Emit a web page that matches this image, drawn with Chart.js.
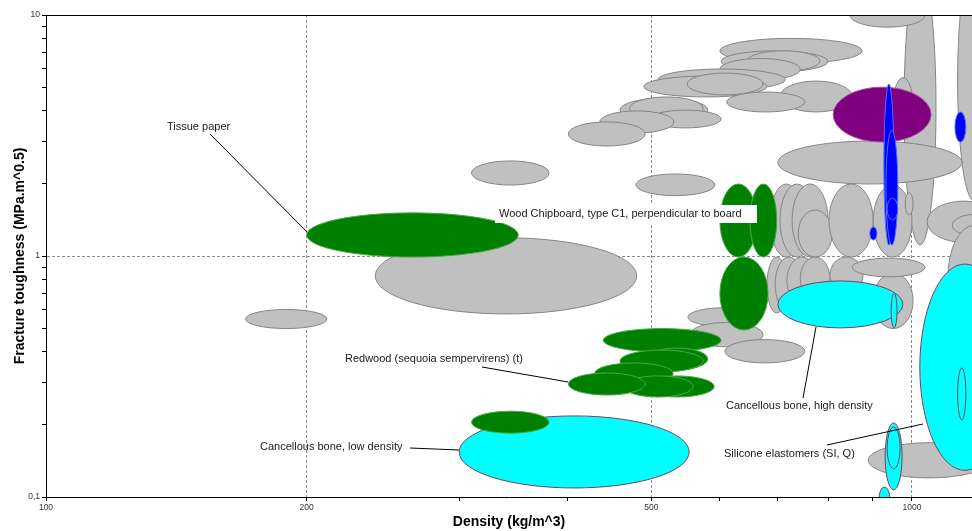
<!DOCTYPE html>
<html>
<head>
<meta charset="utf-8">
<script src="https://cdn.jsdelivr.net/npm/chart.js@4/dist/chart.umd.min.js"></script>
<style>
  html, body { margin: 0; padding: 0; background: #ffffff; }
  canvas { display: block; }
</style>
</head>
<body>
<canvas id="chart" width="972" height="531"></canvas>
<script>
// Each material is a property range: [density low, density high, toughness low, toughness high]
// density in kg/m^3, fracture toughness in MPa.m^0.5

const greyMaterials = [
  [979, 1066, 1.11, 15.4],
  [1129, 1231, 1.7, 16.9],
  [848, 1035, 8.9, 11.2],
  [951, 1003, 3.2, 5.5],
  [600, 876, 6.3, 8.0],
  [602, 800, 5.8, 7.1],
  [645, 783, 5.85, 7.1],
  [600, 743, 5.37, 6.6],
  [509, 714, 4.88, 5.97],
  [490, 680, 4.57, 5.58],
  [550, 673, 4.66, 5.74],
  [704, 853, 3.96, 5.32],
  [611, 752, 3.96, 4.79],
  [460, 581, 3.60, 4.52],
  [472, 574, 3.67, 4.57],
  [498, 602, 3.40, 4.03],
  [436, 531, 3.24, 4.00],
  [401, 492, 2.86, 3.60],
  [700, 1142, 1.99, 3.0],
  [310, 381, 1.97, 2.48],
  [480, 592, 1.78, 2.19],
  [1041, 1264, 1.14, 1.69],
  [1113, 1264, 1.21, 1.49],
  [1100, 1264, 0.49, 1.34],
  [686, 747, 0.99, 1.99],
  [704, 771, 0.99, 1.99],
  [727, 800, 0.99, 1.99],
  [739, 809, 0.99, 1.55],
  [802, 902, 0.99, 1.99],
  [902, 1000, 0.99, 1.97],
  [982, 1003, 1.48, 1.83],
  [680, 717, 0.58, 0.99],
  [695, 748, 0.59, 0.99],
  [717, 777, 0.63, 0.99],
  [743, 804, 0.66, 0.99],
  [804, 878, 0.70, 0.99],
  [902, 1003, 0.50, 0.85],
  [853, 1035, 0.82, 0.98],
  [551, 668, 0.51, 0.61],
  [554, 673, 0.42, 0.53],
  [608, 752, 0.36, 0.45],
  [240, 481, 0.575, 1.19],
  [170, 211, 0.50, 0.60],
  [890, 1231, 0.12, 0.168]
];

const cyanMaterials = [
  [300, 553, 0.109, 0.217],   // Cancellous bone, low density
  [700, 976, 0.503, 0.788],   // Cancellous bone, high density
  [946, 961, 0.503, 0.70],
  [1021, 1298, 0.129, 0.926],
  [1129, 1154, 0.209, 0.343],
  [931, 974, 0.107, 0.203],   // Silicone elastomers (SI, Q)
  [936, 969, 0.131, 0.195],
  [916, 943, 0.088, 0.110]
];

const greenMaterials = [
  [200, 351, 0.99, 1.51],     // Tissue paper
  [600, 662, 0.99, 1.99],     // Wood Chipboard, type C1, perpendicular to board
  [650, 698, 0.99, 1.99],
  [600, 682, 0.493, 0.99],
  [440, 602, 0.40, 0.50],
  [494, 581, 0.337, 0.415],
  [460, 574, 0.33, 0.407],
  [430, 530, 0.294, 0.36],
  [485, 591, 0.26, 0.318],
  [464, 559, 0.26, 0.318],
  [401, 492, 0.265, 0.327],   // Redwood (sequoia sempervirens) (t)
  [310, 381, 0.184, 0.227],
  [181, 222, 0.073, 0.099]
];

const purpleMaterials = [
  [811, 1052, 2.97, 5.02]
];

const blueMaterials = [
  [928, 953, 1.11, 5.17],
  [933, 963, 1.11, 3.33],
  [936, 963, 1.41, 1.74],
  [894, 911, 1.165, 1.32],
  [1121, 1154, 2.97, 3.96]
];

// Axis ticks
const densityTicks = [100, 200, 300, 400, 500, 600, 700, 800, 900, 1000];
const densityLabelValues = [100, 200, 500, 1000];
const densityTickLabels = ['100', '200', '500', '1000'];
const densityGridValues = [200, 500, 1000];

const toughTicks = [0.1, 0.2, 0.3, 0.4, 0.5, 0.6, 0.7, 0.8, 0.9, 1, 2, 3, 4, 5, 6, 7, 8, 9, 10];
const toughLabelValues = [0.1, 1, 10];
const toughTickLabels = ['0,1', '1', '10'];
const toughGridValues = [1];

// Callout labels with leader lines (canvas pixels)
const callouts = [
  { text: 'Tissue paper', tx: 167, ty: 127, line: [210, 134, 307, 232] },
  { text: 'Wood Chipboard, type C1, perpendicular to board', tx: 499, ty: 214, box: [495, 205, 262, 18] },
  { text: 'Redwood (sequoia sempervirens) (t)', tx: 345, ty: 359, line: [482, 367, 568, 382] },
  { text: 'Cancellous bone, low density', tx: 260, ty: 447, line: [410, 448, 459, 450] },
  { text: 'Cancellous bone, high density', tx: 726, ty: 406, line: [803, 398, 816, 327] },
  { text: 'Silicone elastomers (SI, Q)', tx: 724, ty: 454, line: [827, 445, 923, 424] }
];

const FONT = "'Liberation Sans', Arial, Helvetica, sans-serif";

const groups = [
  { name: 'Other materials', rows: greyMaterials, fill: '#c0c0c0', stroke: '#858585' },
  { name: 'Cyan group', rows: cyanMaterials, fill: '#00ffff', stroke: '#7a4060' },
  { name: 'Green group', rows: greenMaterials, fill: '#008000', stroke: '#45a845' },
  { name: 'Purple group', rows: purpleMaterials, fill: '#800080', stroke: '#a050a0' },
  { name: 'Blue group', rows: blueMaterials, fill: '#0000ff', stroke: '#5070ff' }
];

// Draws each range as an ellipse spanning its low/high values on both log axes
const rangeEllipses = {
  id: 'rangeEllipses',
  beforeDatasetsDraw(chart) {
    const { ctx, chartArea: a, scales: { x, y } } = chart;
    ctx.save();
    ctx.beginPath();
    ctx.rect(a.left, a.top, a.right - a.left, a.bottom - a.top);
    ctx.clip();
    chart.data.datasets.forEach(ds => {
      ds.data.forEach(p => {
        const [d0, d1, k0, k1] = p.range;
        const x0 = x.getPixelForValue(d0), x1 = x.getPixelForValue(d1);
        const y0 = y.getPixelForValue(k0), y1 = y.getPixelForValue(k1);
        ctx.beginPath();
        ctx.ellipse((x0 + x1) / 2, (y0 + y1) / 2, Math.abs(x1 - x0) / 2, Math.abs(y0 - y1) / 2, 0, 0, Math.PI * 2);
        ctx.fillStyle = ds.backgroundColor;
        ctx.fill();
        ctx.lineWidth = 1;
        ctx.strokeStyle = ds.borderColor;
        ctx.stroke();
      });
    });
    ctx.restore();
  }
};

// Leader lines, callout texts and the top frame line
const calloutLabels = {
  id: 'calloutLabels',
  afterDraw(chart) {
    const { ctx, chartArea: a } = chart;
    ctx.save();
    ctx.strokeStyle = '#000';
    ctx.lineWidth = 1;
    ctx.beginPath();
    ctx.moveTo(a.left, a.top + 0.5);
    ctx.lineTo(a.right, a.top + 0.5);
    ctx.stroke();

    ctx.font = '11px ' + FONT;
    ctx.textBaseline = 'middle';
    ctx.textAlign = 'left';
    callouts.forEach(c => {
      if (c.line) {
        ctx.beginPath();
        ctx.moveTo(c.line[0], c.line[1]);
        ctx.lineTo(c.line[2], c.line[3]);
        ctx.strokeStyle = '#000';
        ctx.lineWidth = 1;
        ctx.stroke();
      }
      if (c.box) {
        ctx.fillStyle = '#ffffff';
        ctx.fillRect(c.box[0], c.box[1], c.box[2], c.box[3]);
      }
      ctx.fillStyle = '#1a1a1a';
      ctx.fillText(c.text, c.tx, c.ty);
    });
    ctx.restore();
  }
};

new Chart(document.getElementById('chart').getContext('2d'), {
  type: 'scatter',
  data: {
    datasets: groups.map(g => ({
      label: g.name,
      data: g.rows.map(r => ({ x: Math.sqrt(r[0] * r[1]), y: Math.sqrt(r[2] * r[3]), range: r })),
      backgroundColor: g.fill,
      borderColor: g.stroke,
      pointRadius: 0,
      pointHoverRadius: 0
    }))
  },
  options: {
    responsive: false,
    animation: false,
    devicePixelRatio: 1,
    events: [],
    layout: { padding: { top: 15, left: 0, right: 0, bottom: 0 } },
    plugins: { legend: { display: false }, tooltip: { enabled: false } },
    scales: {
      x: {
        type: 'logarithmic',
        position: 'bottom',
        min: 100,
        max: 1173,
        afterBuildTicks: s => { s.ticks = densityTicks.map(v => ({ value: v })); },
        afterFit: s => { s.height = 34; },
        ticks: {
          autoSkip: false,
          maxRotation: 0,
          padding: 2,
          color: '#333',
          font: { family: FONT, size: 8.5 },
          callback: v => { const i = densityLabelValues.indexOf(v); return i >= 0 ? densityTickLabels[i] : ''; }
        },
        grid: {
          color: c => (c.tick && densityGridValues.includes(c.tick.value)) ? '#8a8a8a' : 'rgba(0,0,0,0)',
          tickColor: '#000',
          tickLength: 4,
          lineWidth: 1
        },
        border: { display: true, color: '#000', width: 1, dash: [3, 2], z: 1 },
        title: {
          display: true,
          text: 'Density (kg/m^3)',
          color: '#000',
          font: { family: FONT, size: 14, weight: 'bold' },
          padding: { top: 0, bottom: 0 }
        }
      },
      y: {
        type: 'logarithmic',
        position: 'left',
        min: 0.1,
        max: 10,
        afterBuildTicks: s => { s.ticks = toughTicks.map(v => ({ value: v })); },
        afterFit: s => { s.width = 46; },
        ticks: {
          autoSkip: false,
          padding: 2,
          color: '#333',
          font: { family: FONT, size: 8.5 },
          callback: v => { const i = toughLabelValues.indexOf(v); return i >= 0 ? toughTickLabels[i] : ''; }
        },
        grid: {
          color: c => (c.tick && toughGridValues.includes(c.tick.value)) ? '#8a8a8a' : 'rgba(0,0,0,0)',
          tickColor: '#000',
          tickLength: 4,
          lineWidth: 1
        },
        border: { display: true, color: '#000', width: 1, dash: [3, 2], z: 1 },
        title: {
          display: true,
          text: 'Fracture toughness (MPa.m^0.5)',
          color: '#000',
          font: { family: FONT, size: 14, weight: 'bold' },
          padding: { top: 12, bottom: 0 }
        }
      }
    }
  },
  plugins: [rangeEllipses, calloutLabels]
});
</script>
</body>
</html>
